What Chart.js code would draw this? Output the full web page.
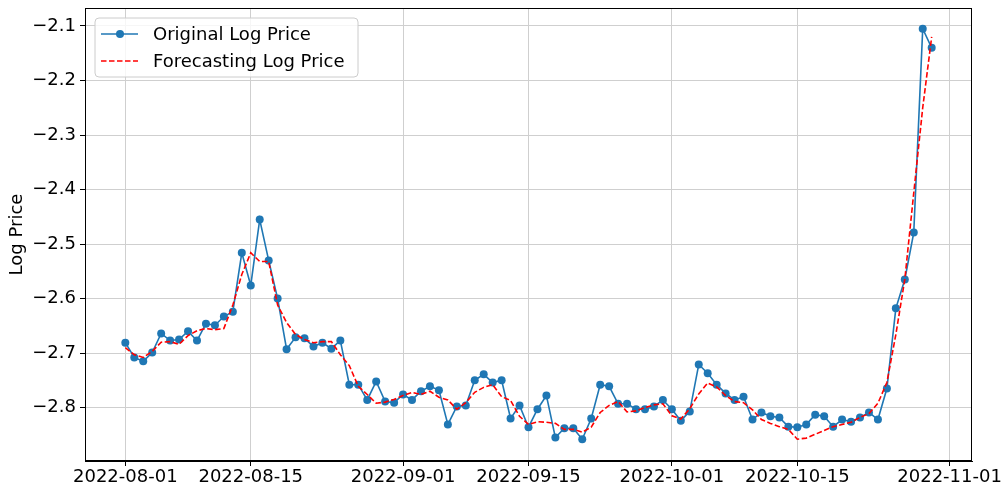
<!DOCTYPE html>
<html>
<head>
<meta charset="utf-8">
<script src="https://cdn.jsdelivr.net/npm/chart.js@4/dist/chart.umd.min.js"></script>
<style>
  body { margin: 0; background: #fff; }
  canvas { display: block; }
</style>
</head>
<body>
<canvas id="chart" width="1006" height="487"></canvas>
<script>
// daily values, starting 2022-08-01
const startDate = '2022-08-01';

const originalLogPrice = [
  -2.681, -2.708, -2.715, -2.699, -2.664, -2.677, -2.675, -2.660, -2.677, -2.646,
  -2.649, -2.633, -2.624, -2.516, -2.576, -2.455, -2.530, -2.600, -2.693, -2.671,
  -2.673, -2.688, -2.681, -2.692, -2.677, -2.758, -2.758, -2.786, -2.752, -2.789, -2.791,
  -2.776, -2.786, -2.770, -2.761, -2.768, -2.831, -2.798, -2.796, -2.750, -2.739,
  -2.754, -2.750, -2.820, -2.796, -2.836, -2.803, -2.778, -2.855, -2.838, -2.838,
  -2.858, -2.820, -2.758, -2.761, -2.793, -2.793, -2.803, -2.803, -2.798, -2.786,
  -2.803, -2.824, -2.807, -2.721, -2.737, -2.758, -2.774, -2.786, -2.780, -2.822,
  -2.809, -2.816, -2.818, -2.835, -2.836, -2.831, -2.813, -2.816, -2.835, -2.822,
  -2.826, -2.818, -2.809, -2.822, -2.765, -2.618, -2.565, -2.479, -2.105, -2.140
];

const forecastLogPrice = [
  -2.690, -2.703, -2.708, -2.697, -2.680, -2.679, -2.684, -2.668, -2.659, -2.655,
  -2.657, -2.655, -2.612, -2.556, -2.516, -2.532, -2.532, -2.612, -2.644, -2.666,
  -2.675, -2.681, -2.679, -2.679, -2.703, -2.723, -2.761, -2.776, -2.792, -2.790, -2.785,
  -2.778, -2.772, -2.776, -2.770, -2.781, -2.786, -2.803, -2.791, -2.772, -2.763,
  -2.758, -2.780, -2.787, -2.816, -2.831, -2.826, -2.827, -2.829, -2.840, -2.840,
  -2.845, -2.836, -2.809, -2.796, -2.789, -2.808, -2.806, -2.800, -2.795, -2.793,
  -2.815, -2.821, -2.802, -2.775, -2.755, -2.762, -2.778, -2.789, -2.791, -2.804,
  -2.822, -2.829, -2.835, -2.840, -2.858, -2.856, -2.849, -2.842, -2.835, -2.831,
  -2.827, -2.818, -2.811, -2.792, -2.754, -2.666, -2.565, -2.406, -2.250, -2.120
];

const xTickLabels = ['2022-08-01', '2022-08-15', '2022-09-01', '2022-09-15', '2022-10-01', '2022-10-15', '2022-11-01'];
const yTickValues = [-2.8, -2.7, -2.6, -2.5, -2.4, -2.3, -2.2, -2.1];

const DAY = 86400000;
const t0 = Date.parse(startDate + 'T00:00:00Z');
const dayOf = s => Math.round((Date.parse(s + 'T00:00:00Z') - t0) / DAY);

const xTickDays = xTickLabels.map(dayOf);
const nDays = originalLogPrice.length;

const FONT = 'DejaVu Sans';
const BLUE = '#1f77b4';
const RED = '#ff0000';

// matplotlib style: full frame + legend box in upper left
const framePlugin = {
  id: 'frame',
  afterDraw(chart) {
    const ctx = chart.ctx;
    const a = chart.chartArea;
    ctx.save();
    ctx.strokeStyle = '#000';
    ctx.lineWidth = 1;
    ctx.strokeRect(a.left + 0.5, a.top + 0.5, a.right - a.left - 1, a.bottom - a.top - 1);

    // legend
    const x = a.left + 10, y = a.top + 10, w = 263, h = 59, r = 4;
    ctx.beginPath();
    ctx.moveTo(x + r, y);
    ctx.arcTo(x + w, y, x + w, y + h, r);
    ctx.arcTo(x + w, y + h, x, y + h, r);
    ctx.arcTo(x, y + h, x, y, r);
    ctx.arcTo(x, y, x + w, y, r);
    ctx.closePath();
    ctx.fillStyle = 'rgba(255,255,255,0.8)';
    ctx.fill();
    ctx.strokeStyle = '#cccccc';
    ctx.lineWidth = 1;
    ctx.stroke();

    const ds = chart.data.datasets;
    const rows = [y + 16, y + 43];
    ctx.font = '18px "' + FONT + '"';
    ctx.textBaseline = 'middle';
    ds.forEach((d, i) => {
      const ry = rows[i];
      ctx.beginPath();
      ctx.setLineDash(d.borderDash || []);
      ctx.strokeStyle = d.borderColor;
      ctx.lineWidth = d.borderWidth;
      ctx.moveTo(x + 6, ry);
      ctx.lineTo(x + 43, ry);
      ctx.stroke();
      ctx.setLineDash([]);
      if (d.pointRadius > 0) {
        ctx.beginPath();
        ctx.fillStyle = d.pointBackgroundColor;
        ctx.arc(x + 25, ry, d.pointRadius, 0, Math.PI * 2);
        ctx.fill();
      }
      ctx.fillStyle = '#000';
      ctx.fillText(d.label, x + 58, ry + 1);
    });
    ctx.restore();
  }
};

new Chart(document.getElementById('chart'), {
  type: 'line',
  data: {
    datasets: [
      {
        label: 'Original Log Price',
        data: originalLogPrice.map((v, i) => ({ x: i, y: v })),
        borderColor: BLUE,
        borderWidth: 1.6,
        pointRadius: 4,
        pointBackgroundColor: BLUE,
        pointBorderWidth: 0,
        tension: 0,
        order: 2
      },
      {
        label: 'Forecasting Log Price',
        data: forecastLogPrice.map((v, i) => ({ x: i, y: v })),
        borderColor: RED,
        borderWidth: 1.6,
        borderDash: [5.5, 2.5],
        pointRadius: 0,
        tension: 0,
        order: 1
      }
    ]
  },
  options: {
    responsive: false,
    animation: false,
    layout: { padding: { top: 8, right: 34, left: 0, bottom: 0 } },
    plugins: {
      legend: { display: false },
      tooltip: { enabled: false }
    },
    scales: {
      x: {
        type: 'linear',
        min: -(nDays - 1) * 0.05,
        max: (nDays - 1) * 1.05,
        afterBuildTicks: s => { s.ticks = xTickDays.map(v => ({ value: v })); },
        afterFit: s => { s.height = 26; },
        ticks: {
          autoSkip: false,
          maxRotation: 0,
          padding: 1,
          color: '#000',
          font: { family: FONT, size: 18 },
          callback: v => xTickLabels[xTickDays.indexOf(v)]
        },
        grid: { color: '#cfcfcf', lineWidth: 1, tickLength: 5, tickColor: '#000' },
        border: { color: '#000' }
      },
      y: {
        min: -2.898,
        max: -2.067,
        afterBuildTicks: s => { s.ticks = yTickValues.map(v => ({ value: v })); },
        afterFit: s => { s.width = 85; s.paddingTop = 0; s.paddingBottom = 0; },
        ticks: {
          padding: 4,
          color: '#000',
          font: { family: FONT, size: 18 },
          callback: v => (v < 0 ? '\u2212' : '') + Math.abs(v).toFixed(1)
        },
        grid: { color: '#cfcfcf', lineWidth: 1, tickLength: 5, tickColor: '#000' },
        border: { color: '#000' },
        title: {
          display: true,
          text: 'Log Price',
          color: '#000',
          font: { family: FONT, size: 18 },
          padding: { top: 7, bottom: 0 }
        }
      }
    }
  },
  plugins: [framePlugin]
});
</script>
</body>
</html>
